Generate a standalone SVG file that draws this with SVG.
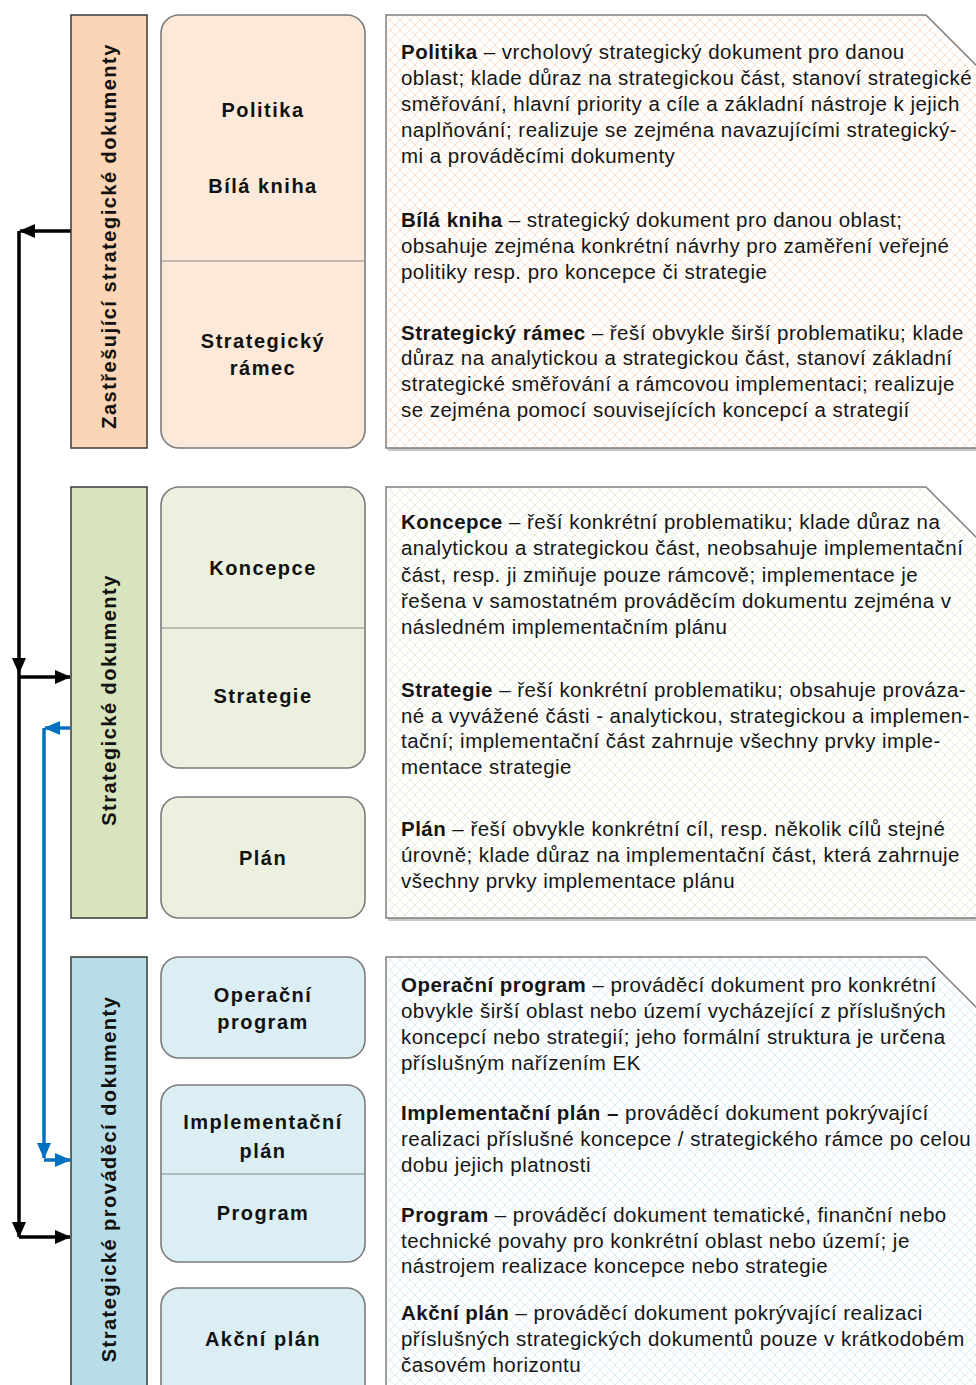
<svg xmlns="http://www.w3.org/2000/svg" width="976" height="1385" viewBox="0 0 976 1385">
<defs>
<style>
.cat{stroke:#3a3a3a;stroke-width:1.5}
.node{stroke:#7a7a7a;stroke-width:1.6}
.div{stroke:#8a8a8a;stroke-width:1.2}
.box{stroke:#7f7f7f;stroke-width:1.5}
.shadow{fill:#c8c8c8;stroke:none}
.lbl{font-family:"Liberation Sans",Arial,sans-serif;font-weight:bold;font-size:20px;letter-spacing:1.5px;fill:#111;text-anchor:middle}
.vl{font-family:"Liberation Sans",Arial,sans-serif;font-weight:bold;font-size:20px;letter-spacing:1.5px;fill:#111;text-anchor:middle}
.tx{font-family:"Liberation Sans",Arial,sans-serif;font-size:20.5px;letter-spacing:0.47px;fill:#151515}
.b{font-weight:bold}
.blk{stroke:#000;stroke-width:3.5;fill:none}
.blu{stroke:#0070c0;stroke-width:3.5;fill:none}
</style>
<pattern id="p1" width="10" height="10" patternUnits="userSpaceOnUse">
<rect width="10" height="10" fill="#ffffff"/>
<path d="M0,0 L10,10 M10,0 L0,10" stroke="#fbe0cc" stroke-width="1"/>
</pattern>
<pattern id="p2" width="10" height="10" patternUnits="userSpaceOnUse">
<rect width="10" height="10" fill="#ffffff"/>
<path d="M0,0 L10,10 M10,0 L0,10" stroke="#e6eddb" stroke-width="1"/>
</pattern>
<pattern id="p3" width="10" height="10" patternUnits="userSpaceOnUse">
<rect width="10" height="10" fill="#ffffff"/>
<path d="M0,0 L10,10 M10,0 L0,10" stroke="#dcecf3" stroke-width="1"/>
</pattern>
<marker id="ak" markerWidth="16" markerHeight="14" refX="15" refY="7" orient="auto" markerUnits="userSpaceOnUse">
<path d="M0,0 L16,7 L0,14 Z" fill="#000"/>
</marker>
<marker id="ab" markerWidth="16" markerHeight="14" refX="15" refY="7" orient="auto" markerUnits="userSpaceOnUse">
<path d="M0,0 L16,7 L0,14 Z" fill="#0070c0"/>
</marker>
</defs>
<rect width="976" height="1385" fill="#ffffff"/>

<g id="connectors">
<path class="blk" d="M71,231 H20" marker-end="url(#ak)"/>
<path class="blk" d="M19,231 V673" marker-end="url(#ak)"/>
<path class="blk" d="M19,677 H70" marker-end="url(#ak)"/>
<path class="blk" d="M19,673 V1237" marker-end="url(#ak)"/>
<path class="blk" d="M19,1237 H70" marker-end="url(#ak)"/>
<path class="blu" d="M70,728 H45" marker-end="url(#ab)"/>
<path class="blu" d="M44,728 V1158" marker-end="url(#ab)"/>
<path class="blu" d="M44,1160 H70" marker-end="url(#ab)"/>
</g>

<g id="cat1">
<rect class="cat" x="71" y="15" width="76" height="433" fill="#fbd5b5"/>
<text class="vl" transform="translate(116,236) rotate(-90)">Zastřešující strategické dokumenty</text>
</g>
<g id="cat2">
<rect class="cat" x="71" y="487" width="76" height="431" fill="#d7e4bd"/>
<text class="vl" transform="translate(116,700) rotate(-90)">Strategické dokumenty</text>
</g>
<g id="cat3">
<rect class="cat" x="71" y="957" width="76" height="445" fill="#b7dee8"/>
<text class="vl" transform="translate(116,1179) rotate(-90)">Strategické prováděcí dokumenty</text>
</g>

<g id="node-politika">
<rect class="node" x="161" y="15" width="204" height="433" rx="18" fill="#fde9d9"/>
<line class="div" x1="161" y1="261" x2="365" y2="261"/>
<text class="lbl" x="263" y="117">Politika</text>
<text class="lbl" x="263" y="193">Bílá kniha</text>
<text class="lbl" x="263" y="348">Strategický</text>
<text class="lbl" x="263" y="375">rámec</text>
</g>
<g id="node-koncepce">
<rect class="node" x="161" y="487" width="204" height="281" rx="18" fill="#ebf1de"/>
<line class="div" x1="161" y1="628" x2="365" y2="628"/>
<text class="lbl" x="263" y="575">Koncepce</text>
<text class="lbl" x="263" y="703">Strategie</text>
</g>
<g id="node-plan">
<rect class="node" x="161" y="797" width="204" height="121" rx="18" fill="#ebf1de"/>
<text class="lbl" x="263" y="865">Plán</text>
</g>
<g id="node-op">
<rect class="node" x="161" y="957" width="204" height="101" rx="18" fill="#dbeef4"/>
<text class="lbl" x="263" y="1002">Operační</text>
<text class="lbl" x="263" y="1029">program</text>
</g>
<g id="node-impl">
<rect class="node" x="161" y="1085" width="204" height="177" rx="18" fill="#dbeef4"/>
<line class="div" x1="161" y1="1174" x2="365" y2="1174"/>
<text class="lbl" x="263" y="1129">Implementační</text>
<text class="lbl" x="263" y="1158">plán</text>
<text class="lbl" x="263" y="1220">Program</text>
</g>
<g id="node-akcni">
<rect class="node" x="161" y="1288" width="204" height="115" rx="18" fill="#dbeef4"/>
<text class="lbl" x="263" y="1346">Akční plán</text>
</g>

<g id="desc1">
<polygon class="shadow" points="388,17 928,17 980,69 980,451 388,451"/>
<polygon class="box" points="386,15 926,15 978,67 978,448 386,448" fill="url(#p1)"/>
<text class="tx" x="401" y="59"><tspan class="b">Politika</tspan> – vrcholový strategický dokument pro danou</text>
<text class="tx" x="401" y="85">oblast; klade důraz na strategickou část, stanoví strategické</text>
<text class="tx" x="401" y="111">směřování, hlavní priority a cíle a základní nástroje k jejich</text>
<text class="tx" x="401" y="137">naplňování; realizuje se zejména navazujícími strategický-</text>
<text class="tx" x="401" y="163">mi a prováděcími dokumenty</text>
<text class="tx" x="401" y="227"><tspan class="b">Bílá kniha</tspan> – strategický dokument pro danou oblast;</text>
<text class="tx" x="401" y="253">obsahuje zejména konkrétní návrhy pro zaměření veřejné</text>
<text class="tx" x="401" y="279">politiky resp. pro koncepce či strategie</text>
<text class="tx" x="401" y="340"><tspan class="b">Strategický rámec</tspan> – řeší obvykle širší problematiku; klade</text>
<text class="tx" x="401" y="365">důraz na analytickou a strategickou část, stanoví základní</text>
<text class="tx" x="401" y="391">strategické směřování a rámcovou implementaci; realizuje</text>
<text class="tx" x="401" y="417">se zejména pomocí souvisejících koncepcí a strategií</text>
</g>

<g id="desc2">
<polygon class="shadow" points="388,489 928,489 980,541 980,921 388,921"/>
<polygon class="box" points="386,487 926,487 978,539 978,918 386,918" fill="url(#p2)"/>
<text class="tx" x="401" y="529"><tspan class="b">Koncepce</tspan> – řeší konkrétní problematiku; klade důraz na</text>
<text class="tx" x="401" y="555">analytickou a strategickou část, neobsahuje implementační</text>
<text class="tx" x="401" y="582">část, resp. ji zmiňuje pouze rámcově; implementace je</text>
<text class="tx" x="401" y="608">řešena v samostatném prováděcím dokumentu zejména v</text>
<text class="tx" x="401" y="634">následném implementačním plánu</text>
<text class="tx" x="401" y="697"><tspan class="b">Strategie</tspan> – řeší konkrétní problematiku; obsahuje prováza-</text>
<text class="tx" x="401" y="723">né a vyvážené části - analytickou, strategickou a implemen-</text>
<text class="tx" x="401" y="748">tační; implementační část zahrnuje všechny prvky imple-</text>
<text class="tx" x="401" y="774">mentace strategie</text>
<text class="tx" x="401" y="836"><tspan class="b">Plán</tspan> – řeší obvykle konkrétní cíl, resp. několik cílů stejné</text>
<text class="tx" x="401" y="862">úrovně; klade důraz na implementační část, která zahrnuje</text>
<text class="tx" x="401" y="888">všechny prvky implementace plánu</text>
</g>

<g id="desc3">
<polygon class="shadow" points="388,959 928,959 980,1011 980,1395 388,1395"/>
<polygon class="box" points="386,957 926,957 978,1009 978,1392 386,1392" fill="url(#p3)"/>
<text class="tx" x="401" y="992"><tspan class="b">Operační program</tspan> – prováděcí dokument pro konkrétní</text>
<text class="tx" x="401" y="1018">obvykle širší oblast nebo území vycházející z příslušných</text>
<text class="tx" x="401" y="1044">koncepcí nebo strategií; jeho formální struktura je určena</text>
<text class="tx" x="401" y="1070">příslušným nařízením EK</text>
<text class="tx" x="401" y="1120"><tspan class="b">Implementační plán –</tspan> prováděcí dokument pokrývající</text>
<text class="tx" x="401" y="1146">realizaci příslušné koncepce / strategického rámce po celou</text>
<text class="tx" x="401" y="1172">dobu jejich platnosti</text>
<text class="tx" x="401" y="1222"><tspan class="b">Program</tspan> – prováděcí dokument tematické, finanční nebo</text>
<text class="tx" x="401" y="1248">technické povahy pro konkrétní oblast nebo území; je</text>
<text class="tx" x="401" y="1273">nástrojem realizace koncepce nebo strategie</text>
<text class="tx" x="401" y="1320"><tspan class="b">Akční plán</tspan> – prováděcí dokument pokrývající realizaci</text>
<text class="tx" x="401" y="1346">příslušných strategických dokumentů pouze v krátkodobém</text>
<text class="tx" x="401" y="1372">časovém horizontu</text>
</g>
</svg>
